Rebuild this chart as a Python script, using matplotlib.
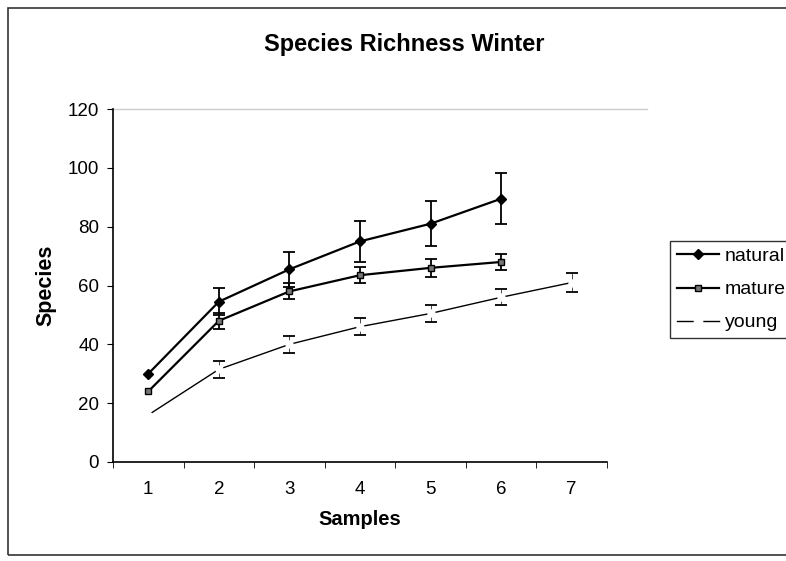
import numpy as np
import matplotlib
matplotlib.use('Agg')
import matplotlib.pyplot as plt
from matplotlib.patches import Rectangle
from matplotlib.lines import Line2D

plt.rcParams['font.family'] = ['Liberation Sans', 'DejaVu Sans']

samples = [1, 2, 3, 4, 5, 6, 7]

natural = [30, 54.5, 65.5, 75, 81, 89.5]
natural_err = [0, 4.5, 6, 7, 7.6, 8.7]

mature = [24, 48, 58, 63.5, 66, 68]
mature_err = [0, 2.8, 2.7, 2.8, 3, 2.7]

young = [16, 31.5, 40, 46, 50.5, 56, 61]
young_err = [0, 3, 3, 2.9, 3, 2.7, 3.2]

fig = plt.figure(figsize=(7.86, 5.61), dpi=100)
# outer chart frame
fig.patches.append(Rectangle((8 / 786, 6 / 561), 1.0, 547 / 561, transform=fig.transFigure,
                             fill=False, edgecolor='#333333', linewidth=1.2, clip_on=False))

ax = fig.add_axes([113 / 786, 1 - 462 / 561, (607 - 113) / 786, (462 - 109) / 561])

# error bars (first sample has none)
ax.errorbar(samples[1:6], natural[1:], yerr=natural_err[1:], fmt='none', ecolor='black',
            capsize=4, elinewidth=1.3, capthick=1.3)
ax.errorbar(samples[1:6], mature[1:], yerr=mature_err[1:], fmt='none', ecolor='black',
            capsize=4, elinewidth=1.3, capthick=1.3)
ax.errorbar(samples[1:], young[1:], yerr=young_err[1:], fmt='none', ecolor='black',
            capsize=4, elinewidth=0.5, capthick=1.3)

ax.plot(samples[:6], natural, color='black', linewidth=1.6, marker='D', markersize=5)
ax.plot(samples[:6], mature, color='black', linewidth=1.6, marker='s', markersize=5,
        markerfacecolor='#777777')
ax.plot(samples, young, color='black', linewidth=1.0, marker='o', markersize=5,
        markerfacecolor='white', markeredgecolor='white')

ax.axhline(120, color='#cccccc', linewidth=1, xmax=1.08, clip_on=False)

ax.set_xlim(0.5, 7.5)
ax.set_ylim(0, 120)
ax.set_yticks(np.arange(0, 121, 20))
ax.set_xticks(samples)
ax.set_xticks(np.arange(0.5, 7.6, 1), minor=True)
ax.tick_params(axis='x', which='major', length=0, pad=14, labelsize=13.5)
ax.tick_params(axis='x', which='minor', length=4, direction='out')
ax.tick_params(axis='y', length=4, direction='out', labelsize=13.5, pad=6)

for s in ['top', 'right']:
    ax.spines[s].set_visible(False)
for s in ['left', 'bottom']:
    ax.spines[s].set_linewidth(1.2)

ax.set_xlabel('Samples', fontsize=14.5, fontweight='bold', labelpad=8)
ax.set_ylabel('Species', fontsize=15.5, fontweight='bold', labelpad=8)
fig.text(404 / 786, 1 - 44 / 561, 'Species Richness Winter', fontsize=17,
         fontweight='bold', ha='center', va='center')

handles = [
    Line2D([], [], color='black', linewidth=1.6, marker='D', markersize=5),
    Line2D([], [], color='black', linewidth=1.6, marker='s', markersize=5,
           markerfacecolor='#777777'),
    Line2D([], [], color='black', linewidth=1.0, marker='o', markersize=6,
           markerfacecolor='white', markeredgecolor='white'),
]
leg = ax.legend(handles, ['natural', 'mature', 'young'], loc='upper left',
                bbox_to_anchor=(660 / 786, 1 - 231 / 561),
                bbox_transform=fig.transFigure, fontsize=14, frameon=True, fancybox=False,
                edgecolor='black', handlelength=2.2, handletextpad=0.3,
                borderpad=0.35, labelspacing=0.8)
leg.get_frame().set_linewidth(1.0)

fig.savefig('out.png', dpi=100)
